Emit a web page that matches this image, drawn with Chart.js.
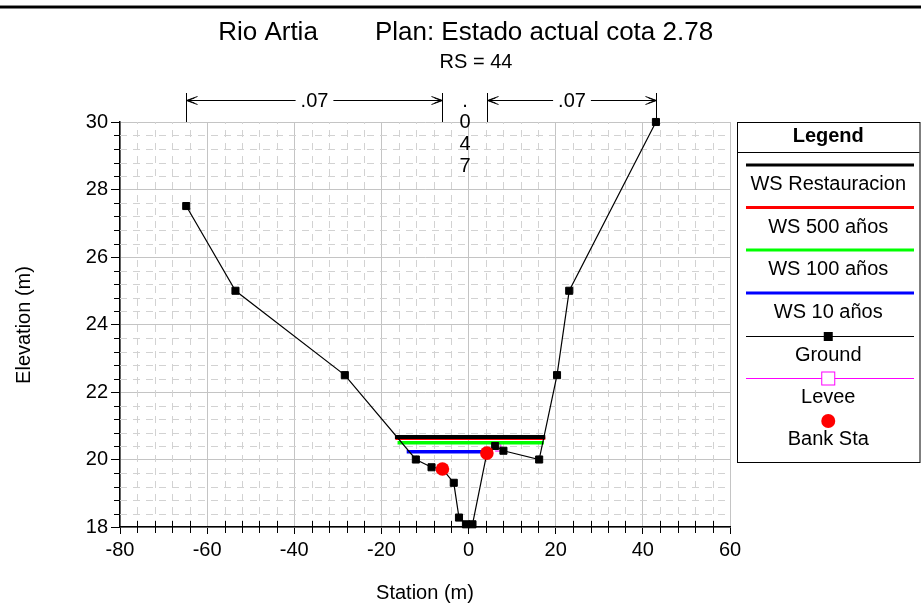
<!DOCTYPE html>
<html>
<head>
<meta charset="utf-8">
<script src="https://cdn.jsdelivr.net/npm/chart.js@4/dist/chart.umd.min.js"></script>
<style>
  html, body { margin: 0; padding: 0; background: #fff; }
  #wrap { width: 921px; height: 605px; }
</style>
</head>
<body>
<div id="wrap"><canvas id="seccion" width="921" height="605"></canvas></div>
<script>
// seccion RS 44 - terreno
const groundStation = [-64.8, -53.5, -28.4, -12.1, -8.5, -6.0, -3.4, -2.2, -0.6, 0.9, 4.2, 6.1, 8.0, 16.2, 20.3, 23.1, 43.0];
const groundElev = [27.51, 25.0, 22.5, 20.0, 19.77, 19.72, 19.31, 18.28, 18.08, 18.08, 20.19, 20.4, 20.26, 20.0, 22.5, 25.0, 30.0];

// bank stations
const bankStation = [-6.0, 4.2];
const bankElev = [19.72, 20.19];

// levee
const leveeStation = [6.1, 7.4, 7.4];
const leveeElev = [20.25, 20.25, 20.46];

// water surfaces
const wsNames = ['WS Restauracion', 'WS 500 años', 'WS 100 años', 'WS 10 años'];
const wsElev = [20.67, 20.63, 20.50, 20.23];
const wsLeft = [-16.9, -16.8, -16.3, -14.2];
const wsRight = [17.6, 17.6, 17.3, 4.8];
const wsColors = ['#000000', '#ff0000', '#00ff00', '#0000ff'];

// Manning n
const nBreaks = [-64.8, -6.0, 4.2, 43.0];
const nValues = ['.07', '.047', '.07'];

// axes
const xMin = -80, xMax = 60, xStep = 20, xMinor = 4;
const yMin = 18, yMax = 30, yStep = 2, yMinor = 0.4;

const FONT = '"Liberation Sans", Arial, sans-serif';

function pts(xs, ys) {
    return xs.map(function (x, i) { return { x: x, y: ys[i] }; });
}

const datasets = [];
datasets.push({
    label: 'Bank Sta',
    data: pts(bankStation, bankElev),
    showLine: false,
    clip: 10,
    pointStyle: 'circle',
    pointRadius: 6.8,
    pointBackgroundColor: '#ff0000',
    pointBorderWidth: 0
});
datasets.push({
    label: 'Ground',
    data: pts(groundStation, groundElev),
    showLine: true,
    clip: 10,
    borderColor: '#000',
    borderWidth: 1.2,
    pointStyle: 'rect',
    pointRadius: 5,
    pointBackgroundColor: '#000',
    pointBorderColor: '#000',
    pointBorderWidth: 1
});
wsNames.forEach(function (name, i) {
    datasets.push({
        label: name,
        data: [{ x: wsLeft[i], y: wsElev[i] }, { x: wsRight[i], y: wsElev[i] }],
        showLine: true,
        borderColor: wsColors[i],
        borderWidth: i === 0 ? 4 : 3.5,
        pointRadius: 0
    });
});
datasets.push({
    label: 'Levee',
    data: pts(leveeStation, leveeElev),
    showLine: true,
    borderColor: '#ff00ff',
    borderWidth: 1,
    pointRadius: 0
});

// dashed minor grid under the data
const minorGrid = {
    id: 'minorGrid',
    beforeDatasetsDraw: function (chart) {
        const ctx = chart.ctx, a = chart.chartArea;
        const xs = chart.scales.x, ys = chart.scales.y;
        ctx.save();
        ctx.strokeStyle = '#d2d2d2';
        ctx.lineWidth = 1;
        ctx.setLineDash([7, 6]);
        const nx = Math.round((xMax - xMin) / xMinor);
        for (let i = 1; i < nx; i++) {
            if ((i * xMinor) % xStep === 0) continue;
            const px = Math.round(xs.getPixelForValue(xMin + i * xMinor)) + 0.5;
            ctx.beginPath();
            ctx.moveTo(px, a.bottom);
            ctx.lineTo(px, a.top);
            ctx.stroke();
        }
        const ny = Math.round((yMax - yMin) / yMinor);
        for (let j = 1; j < ny; j++) {
            if (j % Math.round(yStep / yMinor) === 0) continue;
            const py = Math.round(ys.getPixelForValue(yMin + j * yMinor)) + 0.5;
            ctx.beginPath();
            ctx.moveTo(a.left, py);
            ctx.lineTo(a.right, py);
            ctx.stroke();
        }
        ctx.restore();
    }
};

function arrowHead(ctx, x, y, dir) {
    // open chevron pointing toward the break line
    ctx.beginPath();
    ctx.moveTo(x + dir * 11, y - 4);
    ctx.lineTo(x, y);
    ctx.lineTo(x + dir * 11, y + 4);
    ctx.moveTo(x + dir * 8, y - 2.5);
    ctx.lineTo(x + 1 * dir, y);
    ctx.lineTo(x + dir * 8, y + 2.5);
    ctx.stroke();
}

const extras = {
    id: 'extras',
    afterDraw: function (chart) {
        const ctx = chart.ctx, a = chart.chartArea;
        const xs = chart.scales.x, ys = chart.scales.y;
        ctx.save();

        // top rule
        ctx.fillStyle = '#888';
        ctx.fillRect(0, 5, 921, 1);
        ctx.fillStyle = '#000';
        ctx.fillRect(0, 6, 921, 2.5);

        // minor ticks
        ctx.strokeStyle = '#000';
        ctx.lineWidth = 1;
        const ny = Math.round((yMax - yMin) / yMinor);
        for (let j = 1; j < ny; j++) {
            if (j % Math.round(yStep / yMinor) === 0) continue;
            const py = Math.round(ys.getPixelForValue(yMin + j * yMinor)) + 0.5;
            ctx.beginPath();
            ctx.moveTo(a.left - 6, py);
            ctx.lineTo(a.left, py);
            ctx.stroke();
        }
        const nx = Math.round((xMax - xMin) / xMinor);
        for (let i = 1; i < nx; i++) {
            if ((i * xMinor) % xStep === 0) continue;
            const px = Math.round(xs.getPixelForValue(xMin + i * xMinor)) + 0.5;
            ctx.beginPath();
            ctx.moveTo(px, a.bottom - 6);
            ctx.lineTo(px, a.bottom + 6);
            ctx.stroke();
        }

        // titles
        ctx.fillStyle = '#000';
        ctx.textAlign = 'center';
        ctx.textBaseline = 'middle';
        ctx.font = '26px ' + FONT;
        ctx.fillText('Rio Artia', 268, 33);
        ctx.fillText('Plan: Estado actual cota 2.78', 544, 33);
        ctx.font = '20px ' + FONT;
        ctx.fillText('RS = 44', 476, 62);
        ctx.fillText('Station (m)', 425, 593);
        ctx.save();
        ctx.translate(24, 325);
        ctx.rotate(-Math.PI / 2);
        ctx.fillText('Elevation (m)', 0, 0);
        ctx.restore();

        // Manning n breaks
        const arrowY = 100.5;
        ctx.font = '20px ' + FONT;
        nBreaks.forEach(function (s) {
            const px = Math.round(xs.getPixelForValue(s)) + 0.5;
            ctx.beginPath();
            ctx.moveTo(px, 93);
            ctx.lineTo(px, a.top);
            ctx.stroke();
        });
        nValues.forEach(function (n, i) {
            const x0 = Math.round(xs.getPixelForValue(nBreaks[i])) + 0.5;
            const x1 = Math.round(xs.getPixelForValue(nBreaks[i + 1])) + 0.5;
            const w = ctx.measureText(n).width;
            const mid = (x0 + x1) / 2;
            if (x1 - x0 > w + 30) {
                ctx.beginPath();
                ctx.moveTo(x0, arrowY);
                ctx.lineTo(mid - w / 2 - 5, arrowY);
                ctx.moveTo(mid + w / 2 + 5, arrowY);
                ctx.lineTo(x1, arrowY);
                ctx.stroke();
                arrowHead(ctx, x0, arrowY, 1);
                arrowHead(ctx, x1, arrowY, -1);
                ctx.fillText(n, mid, arrowY + 1);
            } else {
                // too narrow: stack the characters
                n.split('').forEach(function (ch, k) {
                    ctx.fillText(ch, mid, 101 + k * 21.7);
                });
            }
        });

        // legend box
        const lx = 737, lt = 122.5, lr = 919.5, lb = 462.5, cx = (lx + lr) / 2;
        ctx.strokeStyle = '#000';
        ctx.lineWidth = 1;
        ctx.strokeRect(lx + 0.5, lt, lr - lx, lb - lt);
        ctx.beginPath();
        ctx.moveTo(lx, 152.5);
        ctx.lineTo(lr, 152.5);
        ctx.stroke();
        ctx.font = 'bold 20px ' + FONT;
        ctx.fillText('Legend', cx, 136);
        ctx.font = '20px ' + FONT;
        const rowY = [165, 207.5, 250, 293];
        wsNames.forEach(function (name, i) {
            ctx.strokeStyle = wsColors[i];
            ctx.lineWidth = 3;
            ctx.beginPath();
            ctx.moveTo(746, rowY[i]);
            ctx.lineTo(914, rowY[i]);
            ctx.stroke();
            ctx.fillText(name, cx, rowY[i] + 19.5);
        });
        // ground
        ctx.strokeStyle = '#000';
        ctx.lineWidth = 1;
        ctx.beginPath();
        ctx.moveTo(746, 336.5);
        ctx.lineTo(914, 336.5);
        ctx.stroke();
        ctx.fillRect(cx - 4.5, 332, 9, 9);
        ctx.fillText('Ground', cx, 355);
        // levee
        ctx.strokeStyle = '#ff00ff';
        ctx.beginPath();
        ctx.moveTo(746, 378.5);
        ctx.lineTo(914, 378.5);
        ctx.stroke();
        ctx.fillStyle = '#fff';
        ctx.fillRect(cx - 6.5, 372, 13, 13);
        ctx.strokeRect(cx - 6.5, 372, 13, 13);
        ctx.fillStyle = '#000';
        ctx.fillText('Levee', cx, 397);
        // bank
        ctx.fillStyle = '#ff0000';
        ctx.beginPath();
        ctx.arc(cx, 421, 7, 0, Math.PI * 2);
        ctx.fill();
        ctx.fillStyle = '#000';
        ctx.fillText('Bank Sta', cx, 439);

        ctx.restore();
    }
};

const ctx = document.getElementById('seccion').getContext('2d');
const chart = new Chart(ctx, {
    type: 'scatter',
    data: { datasets: datasets },
    plugins: [minorGrid, extras],
    options: {
        responsive: false,
        animation: false,
        devicePixelRatio: 1,
        layout: { padding: { top: 122, right: 191, bottom: 0, left: 0 } },
        plugins: {
            legend: { display: false },
            tooltip: { enabled: false },
            title: { display: false }
        },
        scales: {
            x: {
                type: 'linear',
                min: xMin,
                max: xMax,
                afterFit: function (scale) { scale.height = 78; },
                ticks: {
                    stepSize: xStep,
                    color: '#000',
                    padding: 4,
                    maxRotation: 0,
                    font: { family: FONT, size: 20 }
                },
                grid: { color: '#c4c4c4', tickColor: '#000', tickLength: 7, lineWidth: 1 },
                border: { color: '#000', width: 1.5 }
            },
            y: {
                type: 'linear',
                min: yMin,
                max: yMax,
                afterFit: function (scale) { scale.width = 120; },
                ticks: {
                    stepSize: yStep,
                    color: '#000',
                    padding: 3,
                    font: { family: FONT, size: 20 }
                },
                grid: { color: '#c4c4c4', tickColor: '#000', tickLength: 9, lineWidth: 1 },
                border: { color: '#000', width: 1.5 }
            }
        }
    }
});
</script>
</body>
</html>
